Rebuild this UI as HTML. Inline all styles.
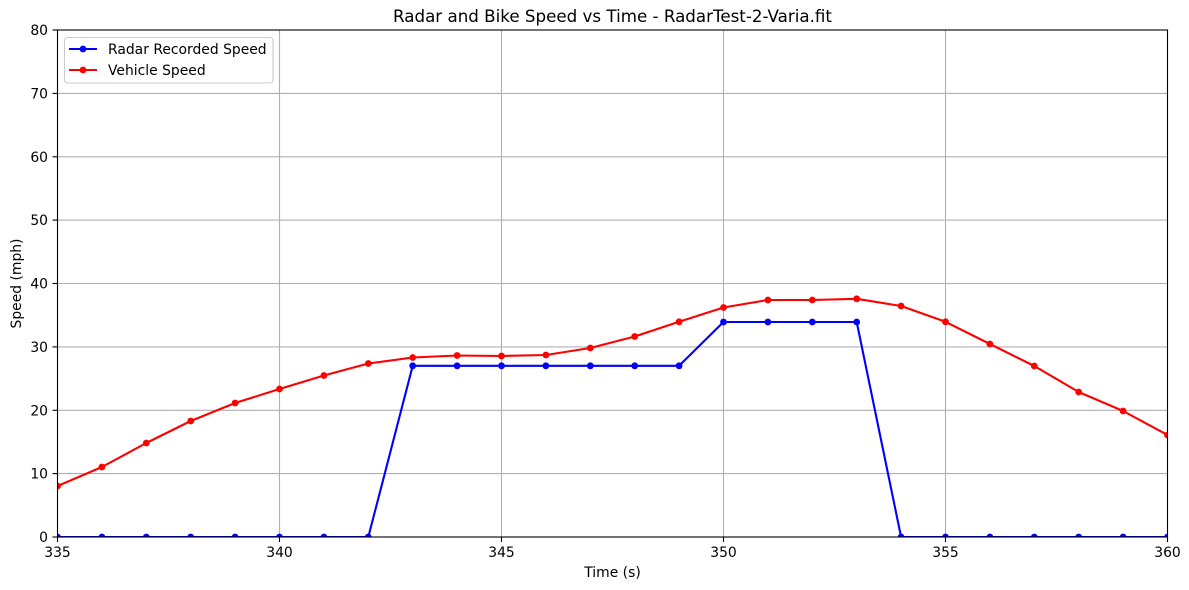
<!DOCTYPE html>
<html><head><meta charset="utf-8"><style>
html,body{margin:0;padding:0;background:#fff;}
svg{display:block;font-family:"DejaVu Sans","Liberation Sans",sans-serif;}
</style></head><body>
<svg width="1189" height="590" viewBox="0 0 1189 590" xmlns="http://www.w3.org/2000/svg">
<rect width="1189" height="590" fill="#fff"/>
<defs><clipPath id="c"><rect x="57.5" y="30" width="1110" height="507"/></clipPath></defs>
<g stroke="#b0b0b0" stroke-width="1.1">
<line x1="279.5" y1="30" x2="279.5" y2="537"/>
<line x1="501.5" y1="30" x2="501.5" y2="537"/>
<line x1="723.5" y1="30" x2="723.5" y2="537"/>
<line x1="945.5" y1="30" x2="945.5" y2="537"/>
<line x1="57.5" y1="473.6" x2="1167.5" y2="473.6"/>
<line x1="57.5" y1="410.3" x2="1167.5" y2="410.3"/>
<line x1="57.5" y1="346.9" x2="1167.5" y2="346.9"/>
<line x1="57.5" y1="283.5" x2="1167.5" y2="283.5"/>
<line x1="57.5" y1="220.1" x2="1167.5" y2="220.1"/>
<line x1="57.5" y1="156.8" x2="1167.5" y2="156.8"/>
<line x1="57.5" y1="93.4" x2="1167.5" y2="93.4"/>
</g>
<g clip-path="url(#c)">
<polyline fill="none" stroke="#0000ff" stroke-width="2.1" stroke-linejoin="round" points="57.5,537 101.9,537 146.3,537 190.7,537 235.1,537 279.5,537 323.9,537 368.3,537 412.7,365.8 457.1,365.8 501.5,365.8 545.9,365.8 590.3,365.8 634.7,365.8 679.1,365.8 723.5,322 767.9,322 812.3,322 856.7,322 901.1,537 945.5,537 989.9,537 1034.3,537 1078.7,537 1123.1,537 1167.5,537"/>
<g fill="#0000ff">
<circle cx="57.5" cy="537" r="3.4"/><circle cx="101.9" cy="537" r="3.4"/><circle cx="146.3" cy="537" r="3.4"/><circle cx="190.7" cy="537" r="3.4"/><circle cx="235.1" cy="537" r="3.4"/><circle cx="279.5" cy="537" r="3.4"/><circle cx="323.9" cy="537" r="3.4"/><circle cx="368.3" cy="537" r="3.4"/>
<circle cx="412.7" cy="365.8" r="3.4"/><circle cx="457.1" cy="365.8" r="3.4"/><circle cx="501.5" cy="365.8" r="3.4"/><circle cx="545.9" cy="365.8" r="3.4"/><circle cx="590.3" cy="365.8" r="3.4"/><circle cx="634.7" cy="365.8" r="3.4"/><circle cx="679.1" cy="365.8" r="3.4"/>
<circle cx="723.5" cy="322" r="3.4"/><circle cx="767.9" cy="322" r="3.4"/><circle cx="812.3" cy="322" r="3.4"/><circle cx="856.7" cy="322" r="3.4"/>
<circle cx="901.1" cy="537" r="3.4"/><circle cx="945.5" cy="537" r="3.4"/><circle cx="989.9" cy="537" r="3.4"/><circle cx="1034.3" cy="537" r="3.4"/><circle cx="1078.7" cy="537" r="3.4"/><circle cx="1123.1" cy="537" r="3.4"/><circle cx="1167.5" cy="537" r="3.4"/>
</g>
<polyline fill="none" stroke="#ff0000" stroke-width="2.1" stroke-linejoin="round" points="57.5,486 101.9,467 146.3,443 190.7,421 235.1,403 279.5,389 323.9,375.5 368.3,363.5 412.7,357.5 457.1,355.5 501.5,356 545.9,355 590.3,348 634.7,336.5 679.1,321.8 723.5,307.5 767.9,300 812.3,300 856.7,298.8 901.1,306 945.5,321.8 989.9,344 1034.3,366 1078.7,392 1123.1,411 1167.5,435"/>
<g fill="#ff0000">
<circle cx="57.5" cy="486" r="3.4"/><circle cx="101.9" cy="467" r="3.4"/><circle cx="146.3" cy="443" r="3.4"/><circle cx="190.7" cy="421" r="3.4"/><circle cx="235.1" cy="403" r="3.4"/><circle cx="279.5" cy="389" r="3.4"/><circle cx="323.9" cy="375.5" r="3.4"/><circle cx="368.3" cy="363.5" r="3.4"/><circle cx="412.7" cy="357.5" r="3.4"/><circle cx="457.1" cy="355.5" r="3.4"/><circle cx="501.5" cy="356" r="3.4"/><circle cx="545.9" cy="355" r="3.4"/><circle cx="590.3" cy="348" r="3.4"/><circle cx="634.7" cy="336.5" r="3.4"/><circle cx="679.1" cy="321.8" r="3.4"/><circle cx="723.5" cy="307.5" r="3.4"/><circle cx="767.9" cy="300" r="3.4"/><circle cx="812.3" cy="300" r="3.4"/><circle cx="856.7" cy="298.8" r="3.4"/><circle cx="901.1" cy="306" r="3.4"/><circle cx="945.5" cy="321.8" r="3.4"/><circle cx="989.9" cy="344" r="3.4"/><circle cx="1034.3" cy="366" r="3.4"/><circle cx="1078.7" cy="392" r="3.4"/><circle cx="1123.1" cy="411" r="3.4"/><circle cx="1167.5" cy="435" r="3.4"/>
</g>
</g>
<rect x="57.5" y="30" width="1110" height="507" fill="none" stroke="#000" stroke-width="1.1"/>
<g stroke="#000" stroke-width="1.1">
<line x1="57.5" y1="537" x2="57.5" y2="542"/><line x1="279.5" y1="537" x2="279.5" y2="542"/><line x1="501.5" y1="537" x2="501.5" y2="542"/><line x1="723.5" y1="537" x2="723.5" y2="542"/><line x1="945.5" y1="537" x2="945.5" y2="542"/><line x1="1167.5" y1="537" x2="1167.5" y2="542"/>
<line x1="52.5" y1="537" x2="57.5" y2="537"/><line x1="52.5" y1="473.6" x2="57.5" y2="473.6"/><line x1="52.5" y1="410.3" x2="57.5" y2="410.3"/><line x1="52.5" y1="346.9" x2="57.5" y2="346.9"/><line x1="52.5" y1="283.5" x2="57.5" y2="283.5"/><line x1="52.5" y1="220.1" x2="57.5" y2="220.1"/><line x1="52.5" y1="156.8" x2="57.5" y2="156.8"/><line x1="52.5" y1="93.4" x2="57.5" y2="93.4"/><line x1="52.5" y1="30" x2="57.5" y2="30"/>
</g>
<g font-size="13.9" fill="#000" text-anchor="middle">
<text x="57.5" y="557">335</text><text x="279.5" y="557">340</text><text x="501.5" y="557">345</text><text x="723.5" y="557">350</text><text x="945.5" y="557">355</text><text x="1167.5" y="557">360</text>
</g>
<g font-size="13.9" fill="#000" text-anchor="end">
<text x="48" y="542">0</text><text x="48" y="478.6">10</text><text x="48" y="415.3">20</text><text x="48" y="351.9">30</text><text x="48" y="288.5">40</text><text x="48" y="225.1">50</text><text x="48" y="161.8">60</text><text x="48" y="98.4">70</text><text x="48" y="35">80</text>
</g>
<text x="612.5" y="577" font-size="13.9" text-anchor="middle">Time (s)</text>
<text transform="translate(21,283.5) rotate(-90)" font-size="13.9" text-anchor="middle">Speed (mph)</text>
<text x="612.5" y="22" font-size="16.7" text-anchor="middle">Radar and Bike Speed vs Time - RadarTest-2-Varia.fit</text>
<rect x="64.5" y="37.5" width="208.5" height="45.5" rx="3" fill="#fff" fill-opacity="0.8" stroke="#cccccc" stroke-width="1.1"/>
<line x1="69" y1="49" x2="97" y2="49" stroke="#0000ff" stroke-width="2.1"/>
<circle cx="83" cy="49" r="3.4" fill="#0000ff"/>
<line x1="69" y1="70" x2="97" y2="70" stroke="#ff0000" stroke-width="2.1"/>
<circle cx="83" cy="70" r="3.4" fill="#ff0000"/>
<text x="108" y="54" font-size="13.9">Radar Recorded Speed</text>
<text x="108" y="75" font-size="13.9">Vehicle Speed</text>
</svg>
</body></html>
